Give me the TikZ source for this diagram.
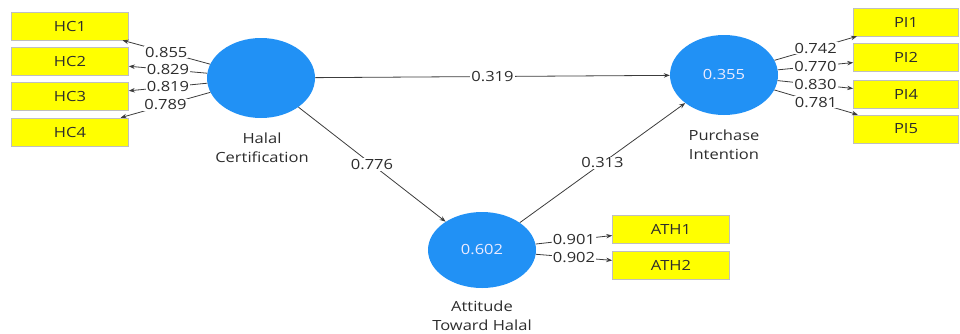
\documentclass[tikz,border=0pt]{standalone}
\usepackage{fontspec}
\setmainfont[FakeStretch=1.18]{Open Sans}
\usetikzlibrary{shapes.geometric,arrows.meta}
\definecolor{lvblue}{RGB}{33,145,245}
\definecolor{indyellow}{RGB}{255,255,0}
\definecolor{lineclr}{RGB}{60,60,60}
\definecolor{txtclr}{RGB}{45,45,45}
\tikzset{
  latent/.style={ellipse,fill=lvblue,draw=none,minimum width=108pt,minimum height=80pt,inner sep=0pt,text=white!92!blue},
  indicator/.style={rectangle,fill=indyellow,draw=black!25,line width=0.6pt,minimum width=117pt,minimum height=28pt,inner sep=0pt,text=txtclr},
  caption/.style={align=center,text=txtclr,font=\fontsize{14}{19}\selectfont},
  lbl/.style={fill=white,inner sep=1pt,text=txtclr,pos=0.5},
  conn/.style={draw=lineclr,line width=0.8pt,-{Stealth[length=6pt,width=4.5pt]}}
}
\begin{document}
\begin{tikzpicture}[x=1pt,y=-1pt,font=\fontsize{14}{18}\selectfont]
\useasboundingbox (0,0) rectangle (960,333);
% latent variables
\node[latent] (HC) at (261,78) {};
\node[latent] (PI) at (724,75) {0.355};
\node[latent,minimum height=76pt] (ATH) at (482,250) {0.602};
% captions
\node[caption] (HCcap) at (262,148) {Halal\\Certification};
\node[caption] (PIcap) at (724,145) {Purchase\\Intention};
\node[caption] (ATHcap) at (482,316) {Attitude\\Toward Halal};
% indicators
\node[indicator] (HC1) at (70,26) {HC1};
\node[indicator] (HC2) at (70,61) {HC2};
\node[indicator] (HC3) at (70,96.5) {HC3};
\node[indicator] (HC4) at (70,132) {HC4};
\node[indicator,minimum width=105pt] (PI1) at (906,22) {PI1};
\node[indicator,minimum width=105pt] (PI2) at (906,57.5) {PI2};
\node[indicator,minimum width=105pt] (PI4) at (906,94) {PI4};
\node[indicator,minimum width=105pt] (PI5) at (906,129) {PI5};
\node[indicator] (ATH1) at (671,229) {ATH1};
\node[indicator] (ATH2) at (671,265) {ATH2};
% outer loadings
\draw[conn] (HC) -- node[lbl]{0.855} (HC1);
\draw[conn] (HC) -- node[lbl]{0.829} (HC2);
\draw[conn] (HC) -- node[lbl]{0.819} (HC3);
\draw[conn] (HC) -- node[lbl]{0.789} (HC4);
\draw[conn] (PI) -- node[lbl]{0.742} (PI1);
\draw[conn] (PI) -- node[lbl]{0.770} (PI2);
\draw[conn] (PI) -- node[lbl]{0.830} (PI4);
\draw[conn] (PI) -- node[lbl]{0.781} (PI5);
\draw[conn] (ATH) -- node[lbl]{0.901} (ATH1);
\draw[conn] (ATH) -- node[lbl]{0.902} (ATH2);
% path coefficients
\draw[conn] (HC) -- node[lbl]{0.319} (PI);
\draw[conn] (HC) -- node[lbl]{0.776} (ATH);
\draw[conn] (ATH) -- node[lbl]{0.313} (PI);
\end{tikzpicture}
\end{document}
